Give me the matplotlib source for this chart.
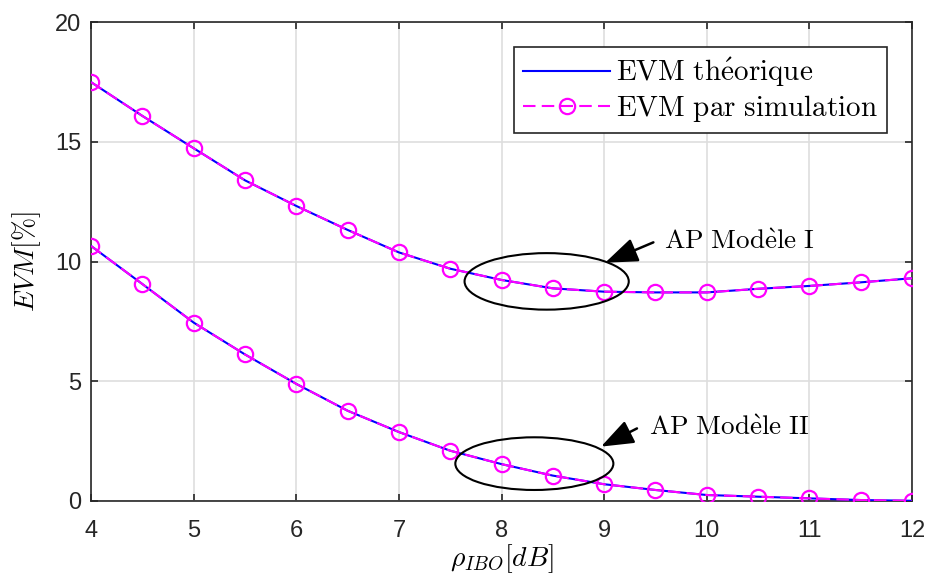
import matplotlib
matplotlib.use("Agg")
import matplotlib.pyplot as plt
from matplotlib.patches import Ellipse

plt.rcParams['font.family'] = ['Liberation Sans', 'DejaVu Sans']
plt.rcParams['mathtext.fontset'] = 'cm'

# données
ibo = [4, 4.5, 5, 5.5, 6, 6.5, 7, 7.5, 8, 8.5, 9, 9.5, 10, 10.5, 11, 11.5, 12]
evm_mod1 = [17.49, 16.08, 14.73, 13.39, 12.32, 11.32, 10.38, 9.70, 9.23, 8.88,
            8.74, 8.71, 8.71, 8.86, 8.98, 9.13, 9.30]
evm_mod2 = [10.65, 9.06, 7.45, 6.12, 4.89, 3.77, 2.88, 2.10, 1.54, 1.06,
            0.70, 0.46, 0.25, 0.18, 0.11, 0.04, 0.01]

xticks = [4, 5, 6, 7, 8, 9, 10, 11, 12]
yticks = [0, 5, 10, 15, 20]

fig = plt.figure(figsize=(9.27, 5.75), dpi=100)
ax = fig.add_axes([0.0982, 0.1287, 0.8856, 0.833])

# courbes théoriques
ax.plot(ibo, evm_mod1, '-', color='#0000ff', lw=1.5, label=r"$\mathrm{EVM\ th\'{e}orique}$", zorder=3)
ax.plot(ibo, evm_mod2, '-', color='#0000ff', lw=1.5, zorder=3)
# simulation
ax.plot(ibo, evm_mod1, '--', color='#ff00ff', lw=1.5, marker='o', ms=11, mfc='none', mew=1.6,
        dashes=(6, 3), label=r"$\mathrm{EVM\ par\ simulation}$", zorder=4)
ax.plot(ibo, evm_mod2, '--', color='#ff00ff', lw=1.5, marker='o', ms=11, mfc='none', mew=1.6,
        dashes=(6, 3), zorder=4)

# ellipses + flèches
ax.add_patch(Ellipse((8.44, 9.17), 1.60, 2.36, fill=False, ec='black', lw=1.5, zorder=5))
ax.add_patch(Ellipse((8.32, 1.56), 1.54, 2.20, fill=False, ec='black', lw=1.5, zorder=5))
fleche = dict(arrowstyle='-|>,head_length=2.0,head_width=0.75', color='black', lw=1.8,
              shrinkA=0, shrinkB=0)
ax.annotate('', xy=(9.01, 9.95), xytext=(9.48, 10.80), arrowprops=fleche, zorder=6)
ax.annotate('', xy=(8.97, 2.27), xytext=(9.32, 3.03), arrowprops=fleche, zorder=6)
ax.text(9.58, 10.82, r"$\mathrm{AP\ Mod\`{e}le\ I}$", fontsize=19.5, va='center', ha='left')
ax.text(9.44, 3.05, r"$\mathrm{AP\ Mod\`{e}le\ II}$", fontsize=19.5, va='center', ha='left')

ax.set_xlim(4, 12)
ax.set_ylim(0, 20)
ax.set_xticks(xticks)
ax.set_yticks(yticks)
ax.grid(True, color='#dedede', lw=1.2)
ax.set_axisbelow(True)
ax.tick_params(direction='in', top=True, right=True, labelsize=17, colors='#262626', length=5, width=1.2)
ax.tick_params(axis='x', pad=14)
ax.tick_params(axis='y', pad=7)
for s in ax.spines.values():
    s.set_color('#262626')
    s.set_linewidth(1.2)

ax.set_xlabel(r"$\rho_{IBO}[dB]$", fontsize=20, labelpad=0)
ax.set_ylabel(r"$EVM[\%]$", fontsize=20, labelpad=9)

leg = ax.legend(loc='upper right', bbox_to_anchor=(0.9695, 0.948), fontsize=21, fancybox=False,
                framealpha=1, edgecolor='#262626', handlelength=3.0, borderpad=0.3,
                labelspacing=0.15, handletextpad=0.2, borderaxespad=0)
leg.get_frame().set_linewidth(1.2)

fig.savefig('out.png', dpi=100)
